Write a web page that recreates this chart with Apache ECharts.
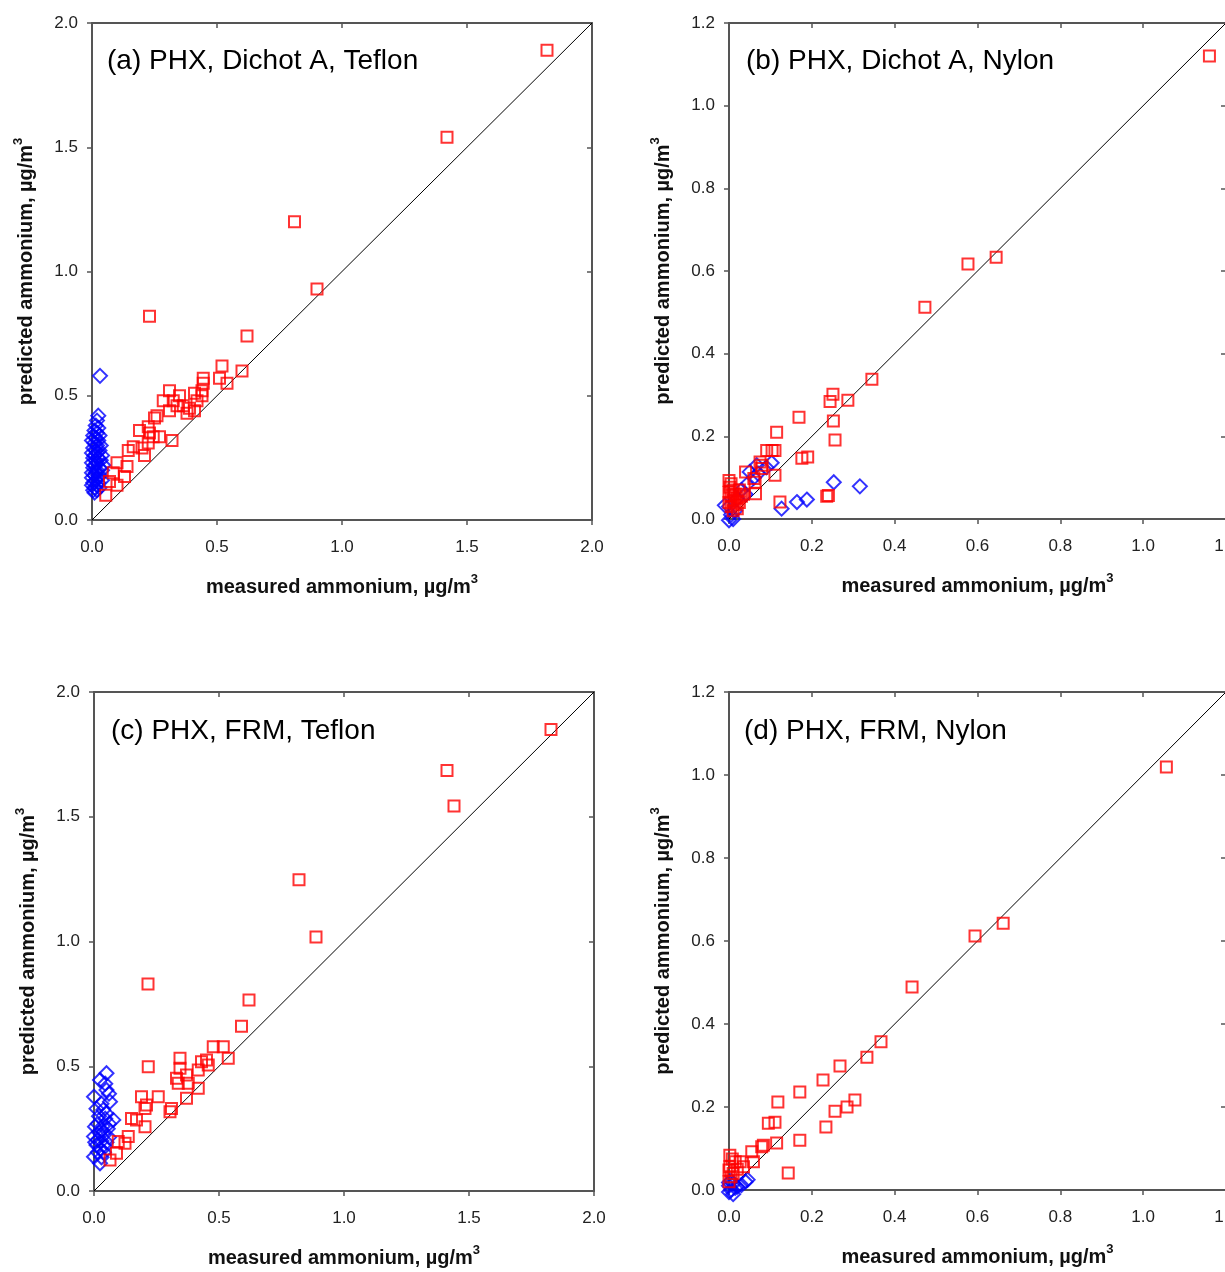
<!DOCTYPE html>
<html>
<head>
<meta charset="utf-8">
<script src="https://cdn.jsdelivr.net/npm/echarts@6/dist/echarts.min.js"></script>
<style>html,body{margin:0;padding:0;background:#fff}#c{width:1225px;height:1272px}</style>
</head>
<body>
<div id="c"></div>
<script>
// ---------- DATA ----------
var titles = ['(a) PHX, Dichot A, Teflon', '(b) PHX, Dichot A, Nylon', '(c) PHX, FRM, Teflon', '(d) PHX, FRM, Nylon'];
var axisMaxes = [2.0, 1.2, 2.0, 1.2];
var axisIntervals = [0.5, 0.2, 0.5, 0.2];
var xAxisTitle = 'measured ammonium, \u00b5g/m{s|3}';
var yAxisTitle = 'predicted ammonium, \u00b5g/m{s|3}';

var redA = [[1.82,1.89],[1.42,1.54],[0.81,1.20],[0.90,0.93],[0.23,0.82],[0.62,0.74],[0.52,0.62],[0.60,0.60],[0.51,0.57],[0.54,0.55],
  [0.445,0.57],[0.445,0.55],[0.44,0.52],[0.44,0.50],[0.41,0.51],[0.42,0.48],[0.39,0.45],[0.41,0.44],[0.38,0.43],[0.35,0.50],
  [0.325,0.48],[0.31,0.52],[0.285,0.48],[0.34,0.46],[0.365,0.46],[0.31,0.44],[0.25,0.41],[0.26,0.42],[0.225,0.375],[0.19,0.36],
  [0.23,0.35],[0.245,0.335],[0.27,0.335],[0.32,0.32],[0.225,0.31],[0.21,0.26],[0.145,0.28],[0.165,0.295],[0.20,0.29],[0.10,0.23],
  [0.14,0.215],[0.085,0.19],[0.13,0.175],[0.07,0.155],[0.10,0.14],[0.055,0.10]];
var blueA = [[0.032,0.58],[0.025,0.42],[0.02,0.40],[0.015,0.38],[0.025,0.37],[0.01,0.36],[0.02,0.35],[0.005,0.34],[0.03,0.34],[0.015,0.33],
  [0.0,0.32],[0.025,0.32],[0.01,0.31],[0.02,0.30],[0.035,0.30],[0.005,0.29],[0.015,0.28],[0.03,0.28],[0.0,0.27],[0.02,0.27],
  [0.01,0.26],[0.04,0.26],[0.025,0.25],[0.005,0.25],[0.015,0.24],[0.035,0.24],[0.0,0.23],[0.02,0.23],[0.045,0.22],[0.01,0.22],
  [0.03,0.21],[0.005,0.21],[0.02,0.20],[0.04,0.20],[0.0,0.19],[0.015,0.19],[0.03,0.18],[0.01,0.18],[0.025,0.17],[0.0,0.17],
  [0.04,0.16],[0.015,0.16],[0.005,0.15],[0.025,0.15],[0.0,0.14],[0.02,0.14],[0.01,0.13],[0.03,0.13],[0.005,0.12],[0.02,0.12],[0.01,0.11]];

var redB = [[1.16,1.12],[0.645,0.633],[0.577,0.617],[0.473,0.512],[0.345,0.338],[0.251,0.302],[0.244,0.284],[0.287,0.287],[0.252,0.237],[0.256,0.191],
  [0.169,0.246],[0.115,0.21],[0.176,0.147],[0.19,0.15],[0.24,0.057],[0.236,0.055],[0.123,0.041],[0.091,0.166],[0.104,0.166],[0.111,0.166],
  [0.075,0.138],[0.04,0.114],[0.111,0.106],[0.079,0.122],[0.06,0.098],[0.064,0.061],[0.08,0.13],[0.063,0.089],
  [0.0,0.093],[0.005,0.085],[0.002,0.077],[0.01,0.07],[0.0,0.065],[0.015,0.06],[0.005,0.055],[0.02,0.05],[0.01,0.045],[0.0,0.04],
  [0.015,0.035],[0.025,0.04],[0.005,0.03],[0.02,0.025],[0.01,0.02],[0.03,0.055],[0.025,0.07],[0.035,0.06]];
var blueB = [[0.253,0.089],[0.316,0.079],[0.188,0.047],[0.164,0.041],[0.127,0.025],[0.103,0.136],[0.067,0.13],[0.05,0.114],[0.06,0.10],[0.045,0.085],
  [0.03,0.07],[0.02,0.05],[0.0,0.03],[0.005,0.01],[0.01,0.0],[0.015,0.02],[0.04,0.06],[0.09,0.125],[0.07,0.11],[-0.01,0.033],[0.0,-0.003]];

var redC = [[1.828,1.85],[1.412,1.685],[1.44,1.543],[0.82,1.247],[0.888,1.018],[0.216,0.83],[0.62,0.766],[0.59,0.66],[0.477,0.578],[0.517,0.578],
  [0.537,0.532],[0.45,0.525],[0.43,0.518],[0.457,0.505],[0.417,0.485],[0.217,0.498],[0.344,0.532],[0.344,0.492],[0.37,0.465],[0.33,0.452],
  [0.337,0.432],[0.377,0.432],[0.417,0.412],[0.37,0.372],[0.19,0.378],[0.257,0.378],[0.21,0.345],[0.204,0.331],[0.31,0.331],[0.304,0.318],
  [0.15,0.291],[0.17,0.285],[0.204,0.258],[0.137,0.218],[0.097,0.198],[0.124,0.191],[0.09,0.151],[0.064,0.124]];
var blueC = [[0.05,0.472],[0.024,0.445],[0.05,0.405],[0.0,0.378],[0.064,0.358],[0.037,0.325],[0.077,0.285],[0.004,0.258],[0.031,0.244],[0.0,0.218],
  [0.01,0.184],[0.044,0.178],[0.0,0.137],[0.024,0.111],[0.02,0.30],[0.045,0.29],[0.06,0.27],[0.015,0.27],[0.035,0.26],[0.055,0.25],
  [0.02,0.235],[0.04,0.225],[0.06,0.215],[0.015,0.205],[0.03,0.20],[0.05,0.195],[0.005,0.195],[0.025,0.17],[0.04,0.155],[0.015,0.155],
  [0.03,0.135],[0.05,0.31],[0.03,0.35],[0.06,0.39],[0.045,0.43],[0.01,0.33]];

var redD = [[1.056,1.019],[0.662,0.643],[0.594,0.612],[0.442,0.489],[0.367,0.357],[0.333,0.32],[0.268,0.299],[0.227,0.265],[0.304,0.217],[0.285,0.2],
  [0.256,0.19],[0.234,0.152],[0.171,0.236],[0.118,0.212],[0.171,0.12],[0.143,0.041],[0.095,0.161],[0.111,0.163],[0.083,0.108],[0.079,0.104],
  [0.115,0.113],[0.055,0.092],[0.059,0.068],[0.002,0.084],[0.015,0.068],[0.002,0.056],[0.0,0.048],[0.005,0.032],[0.0,0.02],[0.027,0.068],
  [0.035,0.056],[0.01,0.04],[0.02,0.05],[0.008,0.075]];
var blueD = [[0.0,0.01],[0.005,0.0],[0.0,-0.005],[0.01,0.015],[0.02,0.008],[0.03,0.012],[0.04,0.02],[0.045,0.025],[0.01,-0.01],[0.005,0.022],
  [0.015,0.005],[0.0,0.018]];

var redSets = [redA, redB, redC, redD];
var blueSets = [blueA, blueB, blueC, blueD];

// ---------- LAYOUT ----------
var grids = [
  {left: 92, top: 23, width: 500, height: 497},
  {left: 729, top: 23, width: 497, height: 496},
  {left: 94, top: 692, width: 500, height: 499},
  {left: 729, top: 692, width: 497, height: 498}
];
var titlePos = [[102, 42], [741, 42], [106, 712], [739, 712]];

var FONT = 'Liberation Sans';
var lineCol = '#555';
var nameStyle = {fontSize: 20, fontWeight: 'bold', color: '#111', fontFamily: FONT, lineHeight: 28,
  rich: {s: {fontSize: 13, fontWeight: 'bold', color: '#111', fontFamily: FONT, verticalAlign: 'top', lineHeight: 14}}};

var option = {animation: false, backgroundColor: '#fff', grid: [], xAxis: [], yAxis: [], series: [], title: []};

for (var i = 0; i < 4; i++) {
  var g = grids[i];
  option.grid.push({left: g.left, top: g.top, width: g.width, height: g.height, containLabel: false, outerBoundsMode: 'none'});
  var mx = axisMaxes[i], iv = axisIntervals[i];
  var fmt = function (v) { return v.toFixed(1); };
  // bottom x axis
  option.xAxis.push({type: 'value', gridIndex: i, min: 0, max: mx, interval: iv, position: 'bottom',
    name: xAxisTitle, nameLocation: 'middle', nameGap: 53, nameTextStyle: nameStyle,
    axisLine: {show: true, onZero: false, lineStyle: {color: lineCol, width: 2}},
    axisTick: {show: true, inside: false, length: 5, lineStyle: {color: lineCol, width: 1.5}},
    axisLabel: {formatter: fmt, fontSize: 17, color: '#222', fontFamily: FONT, margin: 19},
    splitLine: {show: false}});
  // top x axis (frame)
  option.xAxis.push({type: 'value', gridIndex: i, min: 0, max: mx, interval: iv, position: 'top',
    axisLine: {show: true, onZero: false, lineStyle: {color: lineCol, width: 2}},
    axisTick: {show: true, inside: true, length: 5, lineStyle: {color: lineCol, width: 1.5}},
    axisLabel: {show: false}, splitLine: {show: false}});
  // left y axis
  option.yAxis.push({type: 'value', gridIndex: i, min: 0, max: mx, interval: iv, position: 'left',
    name: yAxisTitle, nameLocation: 'middle', nameGap: 52, nameRotate: 90, nameTextStyle: nameStyle,
    axisLine: {show: true, onZero: false, lineStyle: {color: lineCol, width: 2}},
    axisTick: {show: true, inside: false, length: 5, lineStyle: {color: lineCol, width: 1.5}},
    axisLabel: {formatter: fmt, fontSize: 17, color: '#222', fontFamily: FONT, margin: 14},
    splitLine: {show: false}});
  // right y axis (frame)
  option.yAxis.push({type: 'value', gridIndex: i, min: 0, max: mx, interval: iv, position: 'right',
    axisLine: {show: true, onZero: false, lineStyle: {color: lineCol, width: 2}},
    axisTick: {show: true, inside: true, length: 5, lineStyle: {color: lineCol, width: 1.5}},
    axisLabel: {show: false}, splitLine: {show: false}});

  // 1:1 line
  option.series.push({type: 'line', xAxisIndex: 2 * i, yAxisIndex: 2 * i, data: [[0, 0], [mx, mx]],
    symbol: 'none', silent: true, lineStyle: {color: '#000', width: 1}, z: 1});
  // blue diamonds
  option.series.push({type: 'scatter', xAxisIndex: 2 * i, yAxisIndex: 2 * i, data: blueSets[i], clip: false,
    symbol: 'diamond', symbolSize: 14,
    itemStyle: {color: 'rgba(0,0,0,0)', borderColor: '#0000ff', borderWidth: 2}, z: 2});
  // red squares
  option.series.push({type: 'scatter', xAxisIndex: 2 * i, yAxisIndex: 2 * i, data: redSets[i], clip: false,
    symbol: 'rect', symbolSize: 11,
    itemStyle: {color: 'rgba(0,0,0,0)', borderColor: '#ff0000', borderWidth: 2}, z: 3});

  option.title.push({text: titles[i], left: titlePos[i][0], top: titlePos[i][1],
    textStyle: {fontSize: 28, fontWeight: 'normal', color: '#000', fontFamily: FONT}});
}

var chart = echarts.init(document.getElementById('c'), null, {renderer: 'canvas'});
chart.setOption(option);
</script>
</body>
</html>
